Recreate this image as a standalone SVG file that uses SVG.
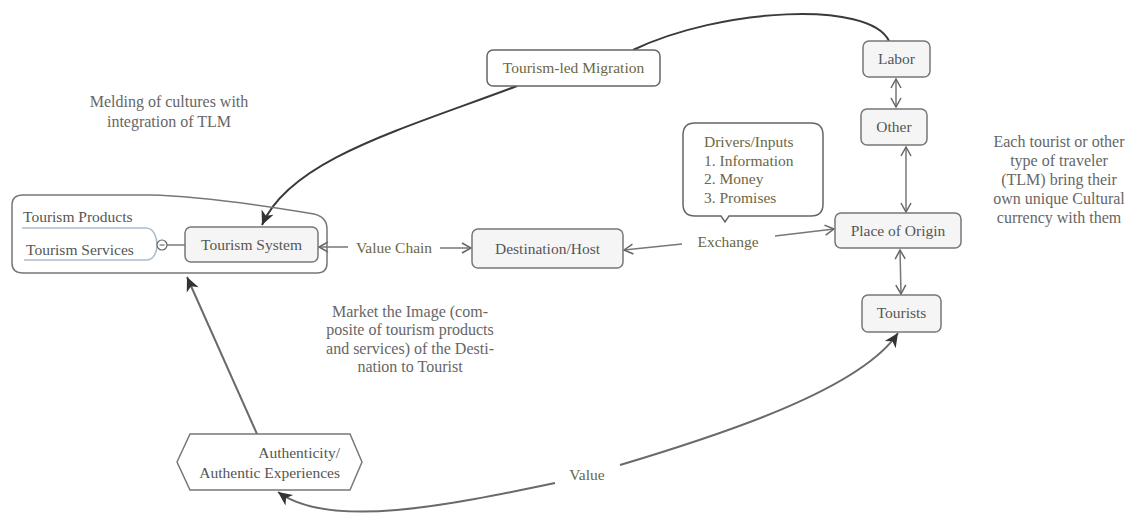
<svg xmlns="http://www.w3.org/2000/svg" width="1137" height="518" viewBox="0 0 1137 518">
<style>
  text { font-family: "Liberation Serif", "DejaVu Serif", serif; }
  .node { fill: #f5f5f5; stroke: #777; stroke-width: 1.5; }
  .nodew { fill: #fff; stroke: #666; stroke-width: 1.5; }
  .t { font-size: 15.5px; fill: #555; }
  .lbl { font-size: 15.5px; fill: #6b6744; }
  .note { font-size: 16px; fill: #666; }
  .curve { fill: none; stroke: #3a3a3a; stroke-width: 2; }
  .gline { fill: none; stroke: #6a6a6a; stroke-width: 2; }
  .thin { fill: none; stroke: #777; stroke-width: 1.5; }
</style>
<defs>
  <marker id="big" markerUnits="userSpaceOnUse" markerWidth="16" markerHeight="14" refX="14" refY="6.5" orient="auto" overflow="visible">
    <path d="M0,0 L14,6.5 L0,13 L4,6.5 z" fill="#333"/>
  </marker>
  <marker id="open" markerUnits="userSpaceOnUse" markerWidth="12" markerHeight="12" refX="9" refY="5" orient="auto-start-reverse" overflow="visible">
    <path d="M0,0 L9,5 L0,10" fill="none" stroke="#666" stroke-width="1.5"/>
  </marker>
</defs>
<rect width="1137" height="518" fill="#fff"/>

<g id="connectors">
  <path class="curve" d="M 889 41 C 870 0, 720 8, 633 50"/>
  <path class="curve" d="M 517 86 C 400 130, 290 160, 262 225" marker-end="url(#big)"/>
  <path class="gline" d="M 257 434 L 187 277" marker-end="url(#big)"/>
  <path class="gline" d="M 620 465 C 720 435, 860 390, 898 333" marker-end="url(#big)"/>
  <path class="gline" d="M 555 483 C 450 505, 330 530, 278 492" marker-end="url(#big)"/>
  <path class="thin" d="M 348 247 L 319 247" marker-end="url(#open)"/>
  <path class="thin" d="M 440 248 L 471 248" marker-end="url(#open)"/>
  <path class="thin" d="M 682 244 L 624 250" marker-end="url(#open)"/>
  <path class="thin" d="M 775 236 L 834 229" marker-end="url(#open)"/>
  <path class="thin" d="M 896 79 L 896 107" marker-start="url(#open)" marker-end="url(#open)"/>
  <path class="thin" d="M 906 147 L 906 212" marker-start="url(#open)" marker-end="url(#open)"/>
  <path class="thin" d="M 900 250 L 901 294" marker-start="url(#open)" marker-end="url(#open)"/>
  <text class="lbl" x="394" y="253" text-anchor="middle">Value Chain</text>
  <text class="lbl" x="728" y="247" text-anchor="middle">Exchange</text>
  <text class="lbl" x="587" y="480" text-anchor="middle">Value</text>
</g>

<g id="tourism-system-group">
  <path class="thin" d="M 23 195 L 150 195 C 200 196, 260 205, 314 214 Q 327 217, 327 229 L 327 263 Q 327 273, 317 273 L 23 273 Q 12 273, 12 263 L 12 205 Q 12 195, 23 195 Z"/>
  <path d="M 22 228 L 146 228 C 154 228, 157 238, 157 245" fill="none" stroke="#a9bccd" stroke-width="1.5"/>
  <path d="M 24 260 L 146 260 C 154 260, 157 252, 157 245" fill="none" stroke="#a9bccd" stroke-width="1.5"/>
  <text class="t" x="23" y="222">Tourism Products</text>
  <text class="t" x="26" y="255">Tourism Services</text>
  <circle cx="162" cy="245" r="5" fill="#fff" stroke="#666" stroke-width="1.2"/>
  <line x1="159.5" y1="245" x2="164.5" y2="245" stroke="#555" stroke-width="1"/>
  <line x1="167" y1="245" x2="185" y2="245" stroke="#666" stroke-width="1.3"/>
</g>

<g id="tourism-system">
  <rect class="node" x="185" y="227" width="133" height="35" rx="6"/>
  <text class="t" x="251.5" y="250" text-anchor="middle">Tourism System</text>
</g>

<g id="destination-host">
  <rect class="node" x="472" y="229" width="151" height="39" rx="6"/>
  <text class="t" x="547.5" y="254" text-anchor="middle">Destination/Host</text>
</g>

<g id="tourism-led-migration">
  <rect class="nodew" x="487" y="50" width="173" height="36" rx="6" stroke="#555"/>
  <text class="lbl" x="573.5" y="73" text-anchor="middle">Tourism-led Migration</text>
</g>

<g id="drivers-inputs">
  <path class="nodew" d="M 695 123 L 811 123 Q 823 123, 823 135 L 823 204 Q 823 216, 811 216 L 729 216 L 725 222 L 721 216 L 695 216 Q 683 216, 683 204 L 683 135 Q 683 123, 695 123 Z" stroke="#888"/>
  <text class="lbl" x="704" y="147">Drivers/Inputs</text>
  <text class="lbl" x="704" y="166">1.  Information</text>
  <text class="lbl" x="704" y="184">2. Money</text>
  <text class="lbl" x="704" y="203">3.  Promises</text>
</g>

<g id="labor">
  <rect class="node" x="863" y="41" width="67" height="36" rx="6"/>
  <text class="t" x="896.5" y="64" text-anchor="middle">Labor</text>
</g>

<g id="other">
  <rect class="node" x="861" y="109" width="66" height="36" rx="6"/>
  <text class="t" x="894" y="132" text-anchor="middle">Other</text>
</g>

<g id="place-of-origin">
  <rect class="node" x="835" y="213" width="126" height="35" rx="6"/>
  <text class="t" x="898" y="236" text-anchor="middle">Place of Origin</text>
</g>

<g id="tourists">
  <rect class="node" x="862" y="295" width="79" height="37" rx="6"/>
  <text class="t" x="901.5" y="318" text-anchor="middle">Tourists</text>
</g>

<g id="authenticity">
  <polygon points="177,462 190,434 350,434 362,462 350,490 190,490" fill="#fff" stroke="#777" stroke-width="1.5"/>
  <text class="t" x="340" y="458" text-anchor="end">Authenticity/</text>
  <text class="t" x="340" y="478" text-anchor="end">Authentic Experiences</text>
</g>

<g id="notes">
  <text class="note" x="169" y="107" text-anchor="middle">Melding of cultures with</text>
  <text class="note" x="169" y="127" text-anchor="middle">integration of TLM</text>
  <text class="note" x="410" y="317" text-anchor="middle">Market the Image (com-</text>
  <text class="note" x="410" y="335" text-anchor="middle">posite of tourism products</text>
  <text class="note" x="410" y="354" text-anchor="middle">and services) of the Desti-</text>
  <text class="note" x="410" y="372" text-anchor="middle">nation to Tourist</text>
  <text class="note" x="1059" y="147" text-anchor="middle">Each tourist or other</text>
  <text class="note" x="1059" y="166" text-anchor="middle">type of traveler</text>
  <text class="note" x="1059" y="185" text-anchor="middle">(TLM) bring their</text>
  <text class="note" x="1059" y="204" text-anchor="middle">own unique Cultural</text>
  <text class="note" x="1059" y="223" text-anchor="middle">currency with them</text>
</g>
</svg>
